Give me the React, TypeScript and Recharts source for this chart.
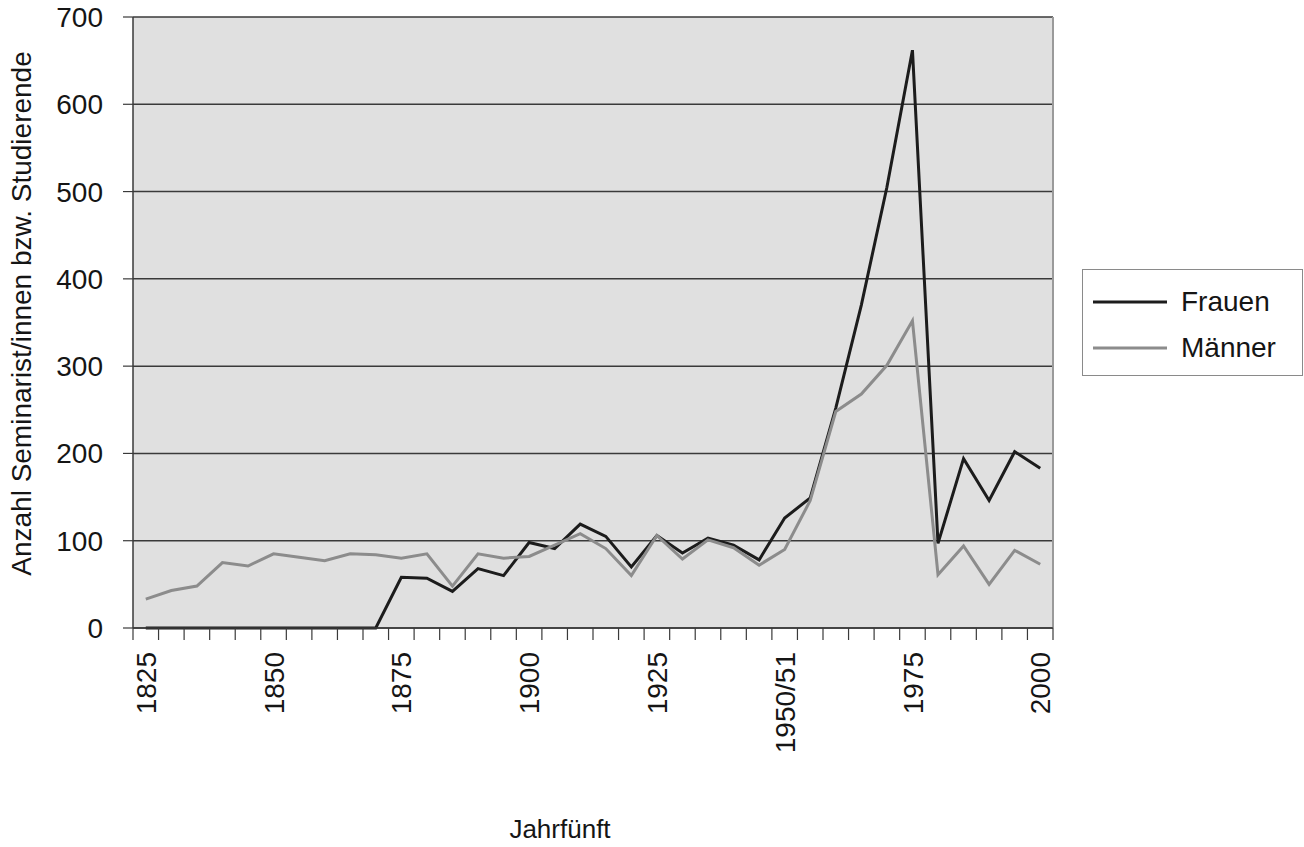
import React from "react";
import {
  LineChart,
  Line,
  XAxis,
  YAxis,
  CartesianGrid,
  ReferenceLine,
  Legend,
} from "recharts";

// Jahrfünfte 1825 .. 2000
const jahre = [
  "1825", "1830", "1835", "1840", "1845", "1850", "1855", "1860", "1865", "1870",
  "1875", "1880", "1885", "1890", "1895", "1900", "1905", "1910", "1915", "1920",
  "1925", "1930", "1935", "1940", "1945", "1950/51", "1955", "1960", "1965", "1970",
  "1975", "1980", "1985", "1990", "1995", "2000",
];

const frauen = [
  0, 0, 0, 0, 0, 0, 0, 0, 0, 0,
  58, 57, 42, 68, 60, 98, 91, 119, 105, 70,
  106, 86, 103, 95, 78, 126, 149, 252, 370, 505,
  662, 97, 194, 146, 202, 183,
];

const maenner = [
  33, 43, 48, 75, 71, 85, 81, 77, 85, 84,
  80, 85, 48, 85, 80, 82, 95, 108, 91, 60,
  106, 79, 101, 92, 72, 90, 146, 248, 268, 301,
  352, 61, 94, 50, 89, 73,
];

const yTicks = [0, 100, 200, 300, 400, 500, 600, 700];
const labelTicks = [0, 5, 10, 15, 20, 25, 30, 35];

const rows = jahre.map((j, i) => ({ idx: i, jahr: j, frauen: frauen[i], maenner: maenner[i] }));
const grenzen = [...jahre.map((_, i) => i - 0.5), jahre.length - 0.5];

const FONT = '"Liberation Sans", Arial, Helvetica, sans-serif';

const JahrTick = (props: any) => {
  const { x, y, payload } = props;
  return (
    <text
      x={x}
      y={y}
      dy="0.36em"
      transform={`rotate(-90, ${x}, ${y})`}
      textAnchor="end"
      fontSize={28}
      fontFamily={FONT}
      fill="#151515"
    >
      {jahre[payload.value]}
    </text>
  );
};

// nur Striche, keine Beschriftung
const LeerTick = () => <g />;

const LegendBox = (props: any) => {
  const { payload } = props;
  return (
    <div
      style={{
        width: 221,
        height: 107,
        boxSizing: "border-box",
        border: "1px solid #8a8a8a",
        background: "#fff",
        paddingTop: 9,
        fontFamily: FONT,
        fontSize: 28,
        color: "#151515",
      }}
    >
      {(payload || []).map((p: any) => (
        <div key={p.value} style={{ display: "flex", alignItems: "center", height: 46 }}>
          <svg width={85} height={6} style={{ display: "block" }}>
            <line x1={10} y1={3} x2={84} y2={3} stroke={p.color} strokeWidth={3} />
          </svg>
          <span style={{ marginLeft: 13 }}>{p.value}</span>
        </div>
      ))}
    </div>
  );
};

export default function App() {
  return (
    <div style={{ position: "absolute", left: 0, top: 0, width: 1304, height: 847, background: "#fff" }}>
      <LineChart
        width={1304}
        height={847}
        data={rows}
        margin={{ top: 17, right: 251, bottom: 0, left: 0 }}
      >
        <CartesianGrid
          xAxisId="b"
          vertical={false}
          fill="#e0e0e0"
          fillOpacity={1}
          stroke="#3a3a3a"
          strokeWidth={1.5}
        />
        {/* kleine Striche zwischen den Jahrfünften */}
        <XAxis
          xAxisId="a"
          dataKey="idx"
          type="number"
          domain={[-0.5, jahre.length - 0.5]}
          ticks={grenzen}
          interval={0}
          tick={<LeerTick />}
          tickSize={12}
          height={1}
          axisLine={{ stroke: "#3a3a3a", strokeWidth: 1.5 }}
          tickLine={{ stroke: "#3a3a3a", strokeWidth: 1.2 }}
        />
        <XAxis
          xAxisId="b"
          dataKey="idx"
          type="number"
          domain={[-0.5, jahre.length - 0.5]}
          ticks={labelTicks}
          interval={0}
          tick={<JahrTick />}
          tickLine={false}
          axisLine={false}
          tickSize={0}
          tickMargin={23}
          height={218}
          label={{
            content: ({ viewBox }: any) => (
              <text
                x={viewBox.x + viewBox.width / 2 - 33}
                y={viewBox.y + viewBox.height - 9}
                textAnchor="middle"
                fontSize={26}
                fontFamily={FONT}
                fill="#151515"
              >
                Jahrfünft
              </text>
            ),
          }}
        />
        <YAxis
          domain={[0, 700]}
          ticks={yTicks}
          interval={0}
          width={133}
          tickSize={10}
          tickMargin={20}
          tick={{ fontSize: 28, fontFamily: FONT, fill: "#151515" }}
          axisLine={{ stroke: "#3a3a3a", strokeWidth: 1.5 }}
          tickLine={{ stroke: "#3a3a3a", strokeWidth: 1.2 }}
          label={{
            content: ({ viewBox }: any) => {
              const cx = viewBox.x + 21;
              const cy = viewBox.y + viewBox.height / 2 - 9;
              return (
                <text
                  x={cx}
                  y={cy}
                  dy="0.36em"
                  transform={`rotate(-90, ${cx}, ${cy})`}
                  textAnchor="middle"
                  fontSize={28}
                  fontFamily={FONT}
                  fill="#151515"
                >
                  Anzahl Seminarist/innen bzw. Studierende
                </text>
              );
            },
          }}
        />
        <ReferenceLine xAxisId="b" x={jahre.length - 0.5} stroke="#9a9a9a" strokeWidth={2} />
        <Line
          xAxisId="b"
          type="linear"
          dataKey="frauen"
          name="Frauen"
          stroke="#1c1c1c"
          strokeWidth={3}
          dot={false}
          activeDot={false}
          isAnimationActive={false}
        />
        <Line
          xAxisId="b"
          type="linear"
          dataKey="maenner"
          name="Männer"
          stroke="#8c8c8c"
          strokeWidth={3}
          dot={false}
          activeDot={false}
          isAnimationActive={false}
        />
        <Legend
          layout="horizontal"
          align="center"
          verticalAlign="middle"
          content={<LegendBox />}
          wrapperStyle={{ left: 1082, top: 269, width: 221, height: 107 }}
        />
      </LineChart>
    </div>
  );
}
